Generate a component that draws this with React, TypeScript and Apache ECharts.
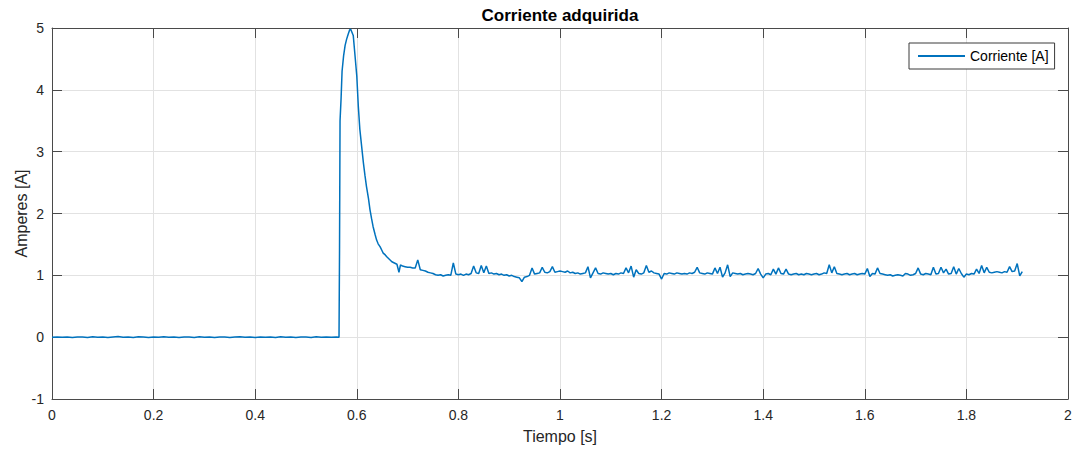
import React, { useEffect, useRef } from "react";
import * as echarts from "echarts";

// Current acquisition: idle baseline, inrush peak, then steady plateau.
const TITULO = "Corriente adquirida";
const NOMBRE_SERIE = "Corriente [A]";
const EJE_X = "Tiempo [s]";
const EJE_Y = "Amperes [A]";

// Idle period, sampled every 10 ms starting at t = 0
const PASO_REPOSO = 0.01;
const corrienteReposo = [
  0.0, 0.004, -0.003, 0.002, -0.005, 0.003, 0.001, -0.004, 0.006, -0.002,
  0.003, -0.006, 0.004, 0.01, -0.003, 0.002, -0.004, 0.005, 0.001, -0.005,
  0.004, -0.002, 0.006, -0.003, 0.002, -0.006, 0.003, 0.001, -0.004, 0.005,
  -0.002, 0.004, -0.005, 0.002, 0.003, -0.004, 0.001, 0.005, -0.003, 0.002,
  -0.005, 0.004, -0.001, 0.003, -0.004, 0.006, -0.002, 0.001, -0.005, 0.003,
  0.002, -0.004, 0.005, -0.002, 0.003, -0.003, 0.001,
];

// Switch-on transient
const tiempoPico = [
  0.565, 0.566, 0.567, 0.569, 0.571, 0.574, 0.577, 0.58, 0.583, 0.586,
  0.588, 0.59, 0.593, 0.596, 0.6, 0.603, 0.606, 0.61, 0.613, 0.616,
  0.619, 0.623, 0.626, 0.629, 0.632, 0.636, 0.639, 0.642, 0.646, 0.649,
  0.652, 0.656, 0.659, 0.664, 0.669, 0.674, 0.679, 0.683, 0.686, 0.69,
  0.695,
];
const corrientePico = [
  0.0, 1.4, 3.5, 3.85, 4.3, 4.55, 4.72, 4.82, 4.9, 4.97,
  4.98, 4.94, 4.88, 4.6, 4.22, 3.73, 3.36, 3.05, 2.82, 2.62,
  2.44, 2.24, 2.06, 1.92, 1.79, 1.66, 1.57, 1.51, 1.46, 1.41,
  1.36, 1.33, 1.3, 1.26, 1.22, 1.2, 1.18, 1.05, 1.17, 1.15,
  1.14,
];

// Steady state, sampled every 5 ms starting at t = 0.70
const INICIO_MESETA = 0.7;
const PASO_MESETA = 0.005;
const corrienteMeseta = [
  1.13, 1.13, 1.12, 1.12, 1.25, 1.09, 1.08, 1.07, 1.05, 1.04,
  1.03, 1.01, 1.0, 1.01, 0.99, 1.0, 1.01, 1.0, 1.2, 1.02,
  1.01, 1.02, 1.0, 1.02, 1.01, 1.03, 1.15, 1.04, 1.03, 1.16,
  1.04, 1.15, 1.03, 1.04, 1.02, 1.03, 1.01, 1.02, 1.0, 1.01,
  0.99, 1.0, 0.98, 0.97, 0.96, 0.9, 0.97, 0.98, 1.0, 1.12,
  1.02, 1.03, 1.04, 1.13, 1.05, 1.04, 1.06, 1.14, 1.05, 1.06,
  1.07, 1.06, 1.05, 1.07, 1.04, 1.05, 1.03, 1.04, 1.02, 1.03,
  1.04, 1.14, 0.96, 1.04, 1.12, 1.03, 1.02, 1.04, 1.03, 1.02,
  1.03, 1.01, 1.03, 1.02, 1.04, 1.03, 1.12, 1.04, 1.15, 0.97,
  1.09, 1.03, 1.02, 1.04, 1.16, 1.05, 1.07, 1.04, 1.03, 1.02,
  0.94, 1.03, 1.02, 1.04, 1.03, 1.02, 1.04, 1.03, 1.02, 1.03,
  1.02, 1.04, 1.03, 1.05, 1.13, 1.04, 1.03, 1.02, 1.04, 1.03,
  1.02, 1.12, 1.03, 1.13, 0.97, 1.04, 1.17, 0.98, 1.04, 1.03,
  1.02, 1.03, 1.01, 1.02, 1.03, 1.02, 1.01, 1.03, 1.11, 1.02,
  0.96, 1.02, 1.03, 1.01, 1.1, 1.02, 1.12, 1.03, 1.02, 1.1,
  1.02, 1.01, 1.02, 1.03, 1.01, 1.02, 1.01, 1.03, 1.02, 1.01,
  1.02, 1.03, 1.01, 1.02, 1.04, 1.03, 1.17, 1.04, 1.14, 1.03,
  1.02, 1.01, 1.02, 1.03, 1.01, 1.02, 1.03, 1.01, 1.02, 1.03,
  1.02, 1.11, 0.98, 1.03, 1.02, 1.12, 1.03, 1.02, 1.01, 1.0,
  1.01, 0.99, 1.0, 1.01, 1.0, 0.99, 1.03, 1.02, 1.0, 1.01,
  1.03, 1.12, 1.02, 1.01, 1.03, 1.02, 1.01, 1.13, 1.02, 1.03,
  1.13, 1.04, 1.1, 1.02, 1.03, 1.14, 1.02, 1.11, 1.03, 0.97,
  1.02, 1.01, 1.03, 1.02, 1.1, 1.03, 1.16, 1.04, 1.13, 1.05,
  1.04, 1.05, 1.06, 1.05, 1.04, 1.06, 1.05, 1.14, 1.06, 1.07,
  1.19, 0.99, 1.06,
];

// Axis ranges and tick steps
const X_MIN = 0;
const X_MAX = 2;
const X_PASO = 0.2;
const Y_MIN = -1;
const Y_MAX = 5;
const Y_PASO = 1;

const FUENTE = "'Liberation Sans', Arial, Helvetica, sans-serif";
const AZUL = "#0072BD";
const EJE = "#4a4a4a";
const TEXTO = "#262626";
const REJILLA = "#e2e2e2";

function construirSerie(): [number, number][] {
  const puntos: [number, number][] = [];
  corrienteReposo.forEach((v, i) => {
    puntos.push([+(i * PASO_REPOSO).toFixed(3), v]);
  });
  tiempoPico.forEach((t, i) => {
    puntos.push([t, corrientePico[i]]);
  });
  corrienteMeseta.forEach((v, i) => {
    puntos.push([+(INICIO_MESETA + i * PASO_MESETA).toFixed(3), v]);
  });
  return puntos;
}

export default function App() {
  const ref = useRef<HTMLDivElement>(null);

  useEffect(() => {
    document.body.style.margin = "0";
    if (!ref.current) return;
    const chart = echarts.init(ref.current, undefined, { renderer: "svg" });

    const ticks = { show: true, inside: true, length: 10, lineStyle: { color: EJE, width: 1 } };
    const linea = { show: true, onZero: false, lineStyle: { color: EJE, width: 1 } };

    chart.setOption({
      animation: false,
      backgroundColor: "#ffffff",
      textStyle: { fontFamily: FUENTE },
      title: {
        text: TITULO,
        left: 560,
        textAlign: "center",
        top: 7,
        padding: 0,
        textStyle: { fontFamily: FUENTE, fontSize: 17, fontWeight: "bold", color: "#000" },
      },
      legend: {
        data: [{ name: NOMBRE_SERIE, icon: "rect" }],
        left: 909,
        top: 43,
        orient: "vertical",
        padding: [5, 6, 5, 9],
        itemWidth: 47,
        itemHeight: 2,
        itemStyle: { color: AZUL },
        borderColor: "#3a3a3a",
        borderWidth: 1,
        borderRadius: 0,
        backgroundColor: "#fff",
        textStyle: { fontFamily: FUENTE, fontSize: 14, color: "#000", lineHeight: 16 },
      },
      grid: { left: 52, right: 6, top: 28, bottom: 50, containLabel: false, outerBoundsMode: "none" },
      xAxis: [
        {
          type: "value",
          min: X_MIN,
          max: X_MAX,
          interval: X_PASO,
          position: "bottom",
          name: EJE_X,
          nameLocation: "middle",
          nameGap: 29,
          nameMoveOverlap: false,
          nameTextStyle: { fontFamily: FUENTE, fontSize: 16, color: TEXTO },
          axisLine: linea,
          axisTick: ticks,
          axisLabel: { fontFamily: FUENTE, fontSize: 14, color: TEXTO, margin: 9 },
          splitLine: { show: true, lineStyle: { color: REJILLA, width: 1 } },
        },
        {
          type: "value",
          min: X_MIN,
          max: X_MAX,
          interval: X_PASO,
          position: "top",
          axisLine: linea,
          axisTick: ticks,
          axisLabel: { show: false },
          splitLine: { show: false },
        },
      ],
      yAxis: [
        {
          type: "value",
          min: Y_MIN,
          max: Y_MAX,
          interval: Y_PASO,
          position: "left",
          name: EJE_Y,
          nameLocation: "middle",
          nameGap: 23,
          nameMoveOverlap: false,
          nameTextStyle: { fontFamily: FUENTE, fontSize: 16, color: TEXTO },
          axisLine: linea,
          axisTick: ticks,
          axisLabel: { fontFamily: FUENTE, fontSize: 14, color: TEXTO, margin: 8 },
          splitLine: { show: true, lineStyle: { color: REJILLA, width: 1 } },
        },
        {
          type: "value",
          min: Y_MIN,
          max: Y_MAX,
          interval: Y_PASO,
          position: "right",
          axisLine: linea,
          axisTick: ticks,
          axisLabel: { show: false },
          splitLine: { show: false },
        },
      ],
      series: [
        {
          name: NOMBRE_SERIE,
          type: "line",
          xAxisIndex: 0,
          yAxisIndex: 0,
          data: construirSerie(),
          symbol: "none",
          showSymbol: false,
          lineStyle: { color: AZUL, width: 1.5 },
          itemStyle: { color: AZUL },
        },
      ],
    });

    return () => chart.dispose();
  }, []);

  return <div ref={ref} style={{ width: 1074, height: 449 }} />;
}
